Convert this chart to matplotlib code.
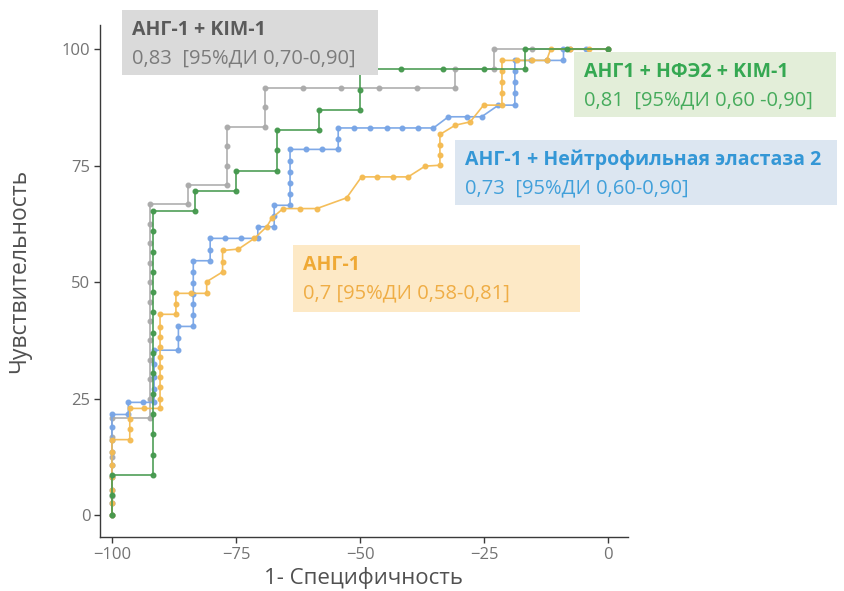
import matplotlib
matplotlib.use("Agg")
import matplotlib.pyplot as plt
from matplotlib.patches import Rectangle

plt.rcParams["font.family"] = ["Open Sans", "DejaVu Sans"]

# ROC points: x = specificity - 100, y = sensitivity (%)
gray_x = [-100, -100, -100, -100, -100, -100, -92.3, -92.3, -92.3, -92.3, -92.3, -92.3,
          -92.3, -92.3, -92.3, -92.3, -92.3, -92.3, -84.6, -84.6, -76.9, -76.9, -76.9,
          -76.9, -69.2, -69.2, -69.2, -61.5, -53.8, -46.2, -38.5, -30.8, -30.8, -23.1,
          -23.1, -15.4, -7.7, 0]
gray_y = [0, 4.2, 8.3, 12.5, 16.7, 20.8, 20.8, 25.0, 29.2, 33.3, 37.5, 41.7,
          45.8, 50.0, 54.2, 58.3, 62.5, 66.7, 66.7, 70.8, 70.8, 75.0, 79.2,
          83.3, 83.3, 87.5, 91.7, 91.7, 91.7, 91.7, 91.7, 91.7, 95.8, 95.8,
          100, 100, 100, 100]

green_x = [-100, -100, -100, -91.7, -91.7, -91.7, -91.7, -91.7, -91.7, -91.7, -91.7,
           -91.7, -91.7, -91.7, -91.7, -91.7, -91.7, -83.3, -83.3, -75.0, -75.0,
           -66.7, -66.7, -66.7, -58.3, -58.3, -50.0, -50.0, -50.0, -41.7, -33.3,
           -25.0, -16.7, -16.7, -8.3, 0]
green_y = [0, 4.3, 8.7, 8.7, 13.0, 17.4, 21.7, 26.1, 30.4, 34.8, 39.1,
           43.5, 47.8, 52.2, 56.5, 60.9, 65.2, 65.2, 69.6, 69.6, 73.9,
           73.9, 78.3, 82.6, 82.6, 87.0, 87.0, 91.3, 95.7, 95.7, 95.7,
           95.7, 95.7, 100, 100, 100]

blue_x = [-100, -100, -100, -100, -100, -100, -100, -100, -100, -96.7, -96.7, -93.8,
          -91.5, -91.5, -91.5, -91.5, -91.5, -86.6, -86.6, -86.6, -83.6, -83.6, -83.6,
          -83.6, -83.6, -83.6, -83.6, -80.2, -80.2, -80.2, -77.2, -73.9, -70.6, -70.6,
          -67.3, -67.3, -67.3, -64.1, -64.1, -64.1, -64.1, -64.1, -64.1, -60.9, -57.6,
          -54.4, -54.4, -54.4, -51.2, -48.0, -44.6, -41.6, -38.4, -35.2, -32.2, -28.5,
          -25.5, -22.1, -18.8, -18.8, -18.8, -18.8, -18.8, -15.6, -12.4, -9.0, -9.0,
          -4.5, 0]
blue_y = [0, 2.7, 5.4, 8.1, 10.8, 13.5, 16.2, 18.9, 21.6, 21.6, 24.2, 24.2,
          24.2, 27.0, 29.7, 32.4, 35.4, 35.4, 38.0, 40.5, 40.5, 43.0, 45.3,
          47.4, 49.8, 52.2, 54.6, 54.6, 57.0, 59.4, 59.4, 59.4, 59.4, 61.9,
          61.9, 64.2, 66.5, 66.5, 68.9, 71.3, 73.7, 76.1, 78.5, 78.5, 78.5,
          78.5, 80.8, 83.1, 83.1, 83.1, 83.1, 83.1, 83.1, 83.1, 85.5, 85.5,
          85.5, 88.0, 88.0, 90.5, 92.9, 95.3, 97.6, 97.6, 97.6, 97.6, 100,
          100, 100]

orange_x = [-100, -100, -100, -100, -100, -100, -100, -96.4, -96.4, -96.4, -96.4, -93.6,
            -90.3, -90.3, -90.3, -90.3, -90.3, -90.3, -90.3, -90.3, -90.3, -90.3, -87.1,
            -87.1, -87.1, -84.0, -80.9, -80.9, -77.7, -77.7, -77.7, -74.5, -71.3, -68.8,
            -67.8, -65.5, -62.1, -58.7, -52.7, -49.7, -46.6, -43.4, -40.3, -36.9, -33.9,
            -33.9, -33.9, -33.9, -30.8, -27.8, -25.1, -21.4, -21.4, -21.4, -21.4, -21.4,
            -18.3, -15.4, -12.4, -11.6, -7.7, -3.8, 0]
orange_y = [0, 2.7, 5.4, 8.1, 10.8, 13.5, 16.2, 16.2, 18.4, 20.6, 22.9, 22.9,
            22.9, 25.0, 27.5, 29.7, 31.8, 34.0, 36.1, 38.3, 40.4, 43.1, 43.1,
            45.3, 47.6, 47.6, 47.6, 50.1, 52.2, 54.4, 56.8, 57.1, 59.4, 61.9,
            63.7, 65.8, 65.8, 65.8, 68.1, 72.6, 72.6, 72.6, 72.6, 74.9, 75.1,
            77.3, 79.5, 81.7, 83.7, 84.4, 88.0, 88.0, 90.6, 92.9, 95.3, 97.6,
            97.6, 97.6, 97.6, 100, 100, 100, 100]

x_ticks = [-100, -75, -50, -25, 0]
y_ticks = [0, 25, 50, 75, 100]

# annotation boxes: title, AUC line, box colour, title colour, AUC colour
labels = [
    ("АНГ-1 + KIM-1", "0,83  [95%ДИ 0,70-0,90]", "#dadada", "#5a5a5a", "#7b7b7b"),
    ("АНГ1 + НФЭ2 + KIM-1", "0,81  [95%ДИ 0,60 -0,90]", "#e3eed9", "#35a852", "#46ab5c"),
    ("АНГ-1 + Нейтрофильная эластаза 2", "0,73  [95%ДИ 0,60-0,90]", "#dce6f1", "#3497d6", "#41a0da"),
    ("АНГ-1", "0,7 [95%ДИ 0,58-0,81]", "#fde9c6", "#efa935", "#efad45"),
]
# box geometry in figure pixels: left, top, right, bottom
box_px = [(122, 10, 378, 75), (574, 52, 836, 117), (455, 140, 837, 205), (293, 245, 580, 312)]

W, H = 844, 591
fig = plt.figure(figsize=(W / 100, H / 100), dpi=100)
ax = fig.add_axes([100 / W, 1 - 537 / H, (628 - 100) / W, (537 - 25) / H])

curves = [
    (gray_x, gray_y, "#ababab"),
    (blue_x, blue_y, "#78a5e6"),
    (orange_x, orange_y, "#f4bb52"),
    (green_x, green_y, "#45994e"),
]
for xs, ys, c in curves:
    ax.plot(xs, ys, color=c, lw=1.2, marker="o", ms=3.3, mec=c, mfc=c, alpha=0.95)

ax.set_xlim(-102.4, 4)
ax.set_ylim(-4.7, 105.2)
ax.set_xticks(x_ticks)
ax.set_yticks(y_ticks)
for s in ["top", "right"]:
    ax.spines[s].set_visible(False)
for s in ["left", "bottom"]:
    ax.spines[s].set_color("#3a3a3a")
    ax.spines[s].set_linewidth(1.0)
ax.tick_params(direction="out", length=4, width=1, colors="#3a3a3a",
               labelcolor="#737373", labelsize=12, pad=3)
ax.set_xlabel("1- Специфичность", fontsize=16, color="#505050")
ax.set_ylabel("Чувствительность", fontsize=16.5, color="#505050")
ax.xaxis.set_label_coords(0.5, -0.058)
ax.yaxis.set_label_coords(-0.13, 0.52)

for (title, auc, bg, c1, c2), (l, t, r, b) in zip(labels, box_px):
    fig.add_artist(Rectangle((l / W, 1 - b / H), (r - l) / W, (b - t) / H,
                             transform=fig.transFigure, facecolor=bg,
                             edgecolor="none", zorder=5))
    fig.text((l + 10) / W, 1 - (t + 20) / H, title, fontsize=14, fontweight="bold",
             color=c1, va="center", ha="left", zorder=6)
    fig.text((l + 10) / W, 1 - (t + 48) / H, auc, fontsize=14.5,
             color=c2, va="center", ha="left", zorder=6)

fig.savefig("out.png", dpi=100)
